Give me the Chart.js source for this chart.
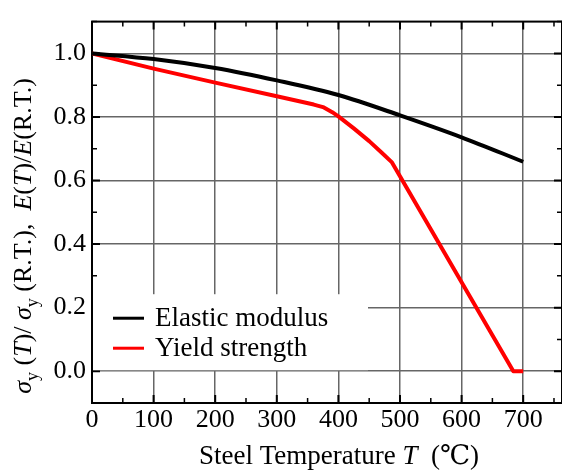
<!DOCTYPE html>
<html><head><meta charset="utf-8">
<script src="https://cdn.jsdelivr.net/npm/chart.js@4"></script>
<style>html,body{margin:0;padding:0;background:#fff;overflow:hidden}#wrap{width:562px;height:470px}</style>
</head><body><div id="wrap"><canvas id="c" width="562" height="470"></canvas></div>
<script>
const elasticTemps = [0, 100, 200, 300, 400, 500, 600, 700];
const elasticValues = [1.0, 0.982, 0.954, 0.915, 0.869, 0.805, 0.736, 0.659];
const yieldTemps = [0, 100, 200, 300, 340, 360, 375, 390, 400, 425, 450, 470, 487, 684, 700];
const yieldValues = [1.0, 0.952, 0.908, 0.865, 0.848, 0.839, 0.831, 0.815, 0.802, 0.764, 0.724, 0.688, 0.657, 0.0, 0.0];
const xTickLabels = [0, 100, 200, 300, 400, 500, 600, 700];
const yTickLabels = [0.0, 0.2, 0.4, 0.6, 0.8, 1.0];
const seriesNames = ['Elastic modulus', 'Yield strength'];

const SERIF = "'Liberation Serif','Times New Roman','DejaVu Serif',serif";

function pts(xs, ys){ return xs.map((x,i)=>({x:x, y:ys[i]})); }

function drawRich(ctx, parts, size){
  let total = 0;
  const meas = parts.map(p=>{
    const f = p[1]==='i' ? `italic ${size}px ${SERIF}` : p[1]==='s' ? `${Math.round(size*0.68)}px ${SERIF}` : `${size}px ${SERIF}`;
    ctx.font = f; const w = ctx.measureText(p[0]).width; total += w; return {f, w};
  });
  let x = -total/2;
  parts.forEach((p,i)=>{
    ctx.font = meas[i].f;
    ctx.fillText(p[0], x, p[1]==='s' ? size*0.28 : 0);
    x += meas[i].w;
  });
}

const framePlugin = {
  id:'frame',
  beforeDatasetsDraw(chart){
    const {ctx, chartArea:a, scales:{x, y}} = chart;
    ctx.save();
    ctx.strokeStyle = '#000';
    ctx.lineWidth = 2;
    xTickLabels.forEach(v=>{
      const px = x.getPixelForValue(v);
      ctx.beginPath(); ctx.moveTo(px, a.bottom); ctx.lineTo(px, a.bottom-8);
      ctx.moveTo(px, a.top); ctx.lineTo(px, a.top+8); ctx.stroke();
    });
    yTickLabels.forEach(v=>{
      const py = y.getPixelForValue(v);
      ctx.beginPath(); ctx.moveTo(a.left, py); ctx.lineTo(a.left+8, py);
      ctx.moveTo(a.right, py); ctx.lineTo(a.right-8, py); ctx.stroke();
    });
    ctx.lineWidth = 1.5;
    for(let v=50; v<x.max; v+=100){
      const px = x.getPixelForValue(v);
      ctx.beginPath(); ctx.moveTo(px, a.bottom); ctx.lineTo(px, a.bottom-5);
      ctx.moveTo(px, a.top); ctx.lineTo(px, a.top+5); ctx.stroke();
    }
    for(let v=-0.1; v<1.15; v+=0.2){
      const py = y.getPixelForValue(v);
      ctx.beginPath(); ctx.moveTo(a.left, py); ctx.lineTo(a.left+5, py);
      ctx.moveTo(a.right, py); ctx.lineTo(a.right-5, py); ctx.stroke();
    }
    ctx.lineWidth = 2;
    ctx.strokeRect(a.left, a.top, a.right-a.left, a.bottom-a.top);
    const lx = a.left+1, ly = y.getPixelForValue(0)-77;
    ctx.fillStyle = '#fff';
    ctx.fillRect(lx, ly, 275, 76);
    ctx.restore();
  },
  afterDatasetsDraw(chart){
    const {ctx, chartArea:a, scales:{x, y}} = chart;
    ctx.save();
    const ly0 = y.getPixelForValue(0)-53;
    chart.data.datasets.forEach((ds,i)=>{
      const yy = ly0 + i*30;
      ctx.strokeStyle = ds.borderColor; ctx.lineWidth = 3;
      ctx.beginPath(); ctx.moveTo(a.left+21, yy); ctx.lineTo(a.left+52, yy); ctx.stroke();
      ctx.fillStyle = '#000'; ctx.font = `27px ${SERIF}`; ctx.textBaseline = 'middle'; ctx.textAlign = 'left';
      ctx.fillText(ds.label, a.left+63, yy+1);
    });
    ctx.textBaseline = 'alphabetic'; ctx.textAlign = 'left'; ctx.fillStyle = '#000';
    ctx.save(); ctx.translate(339, 464);
    drawRich(ctx, [['Steel Temperature ','n'],['T','i'],['  (\u2103)','n']], 27);
    ctx.restore();
    ctx.save(); ctx.translate(31, 236); ctx.rotate(-Math.PI/2);
    drawRich(ctx, [['\u03c3','i'],['y','s'],[' (','n'],['T','i'],[')/ ','n'],['\u03c3','i'],['y','s'],[' (R.T.),  ','n'],['E','i'],['(','n'],['T','i'],[')/','n'],['E','i'],['(R.T.)','n']], 26);
    ctx.restore();
    ctx.restore();
  }
};

new Chart(document.getElementById('c'), {
  type:'line',
  data:{ datasets:[
    {label: seriesNames[0], data: pts(elasticTemps, elasticValues), borderColor:'#000000', borderWidth:4, pointRadius:0, cubicInterpolationMode:'monotone', fill:false},
    {label: seriesNames[1], data: pts(yieldTemps, yieldValues), borderColor:'#ff0000', borderWidth:4, pointRadius:0, tension:0, borderJoinStyle:'round', fill:false}
  ]},
  options:{
    responsive:false, animation:false, devicePixelRatio:1,
    layout:{padding:{top:12, right:0, left:0, bottom:0}},
    plugins:{legend:{display:false}, tooltip:{enabled:false}, title:{display:false}},
    scales:{
      x:{type:'linear', min:0, max:763,
        afterBuildTicks(s){ s.ticks = xTickLabels.map(v=>({value:v})); },
        afterFit(s){ s.height = 67; },
        grid:{color:'#666', lineWidth:1.5, drawTicks:false},
        border:{display:false},
        ticks:{color:'#000', font:{family:SERIF, size:26}, padding:2, maxRotation:0, callback:(v)=>String(v)}
      },
      y:{type:'linear', min:-0.1, max:1.1,
        afterBuildTicks(s){ s.ticks = yTickLabels.map(v=>({value:v})); },
        afterFit(s){ s.width = 92; },
        grid:{color:'#666', lineWidth:1.5, drawTicks:false},
        border:{display:false},
        ticks:{color:'#000', font:{family:SERIF, size:26}, padding:6, callback:(v)=>Number(v).toFixed(1)}
      }
    }
  },
  plugins:[framePlugin]
});
</script></body></html>
